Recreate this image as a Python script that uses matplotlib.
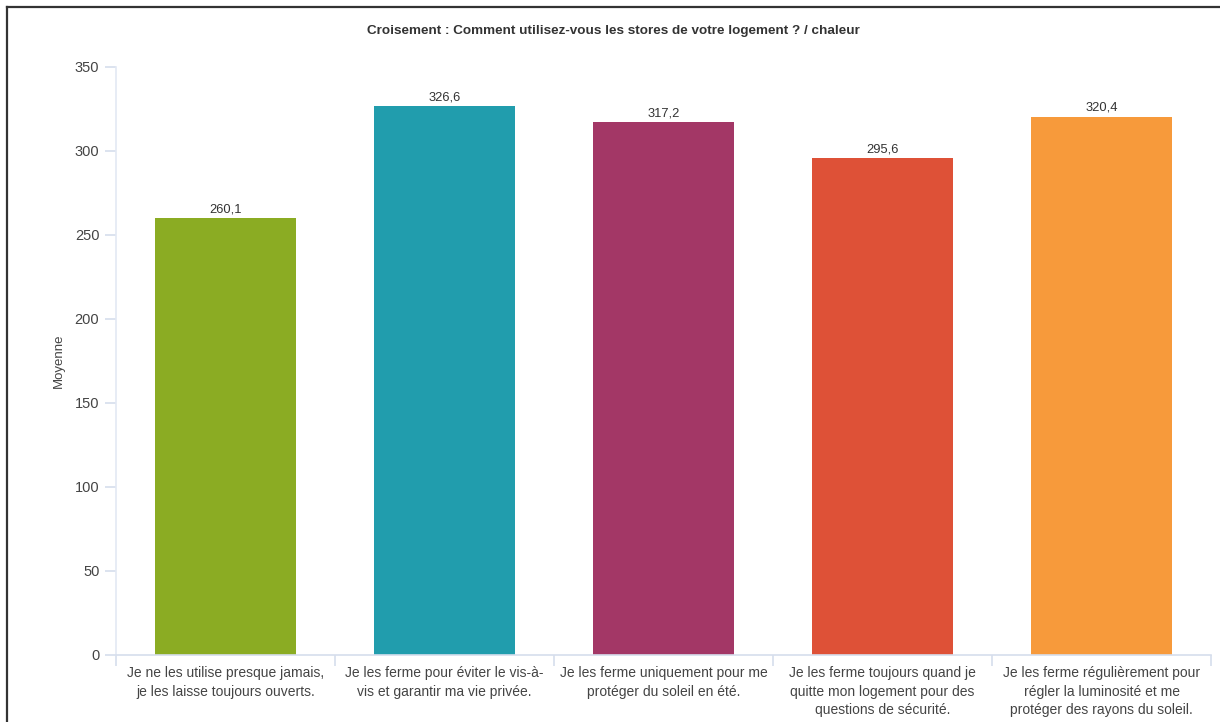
import matplotlib
matplotlib.use("Agg")
import matplotlib.pyplot as plt
from matplotlib.lines import Line2D
import numpy as np

plt.rcParams['font.family'] = ['Liberation Sans', 'DejaVu Sans']

title = "Croisement : Comment utilisez-vous les stores de votre logement ? / chaleur"
categories = [
    "Je ne les utilise presque jamais,\nje les laisse toujours ouverts.",
    "Je les ferme pour éviter le vis-à-\nvis et garantir ma vie privée.",
    "Je les ferme uniquement pour me\nprotéger du soleil en été.",
    "Je les ferme toujours quand je\nquitte mon logement pour des\nquestions de sécurité.",
    "Je les ferme régulièrement pour\nrégler la luminosité et me\nprotéger des rayons du soleil.",
]
values = [260.1, 326.6, 317.2, 295.6, 320.4]
colors = ["#8bac23", "#219dad", "#a33766", "#de5137", "#f79a3b"]
y_ticks = [0, 50, 100, 150, 200, 250, 300, 350]
y_label = "Moyenne"

W, H = 1220, 722
fig = plt.figure(figsize=(W / 100, H / 100), dpi=100)
ax = fig.add_axes([116 / W, 1 - 655 / H, (1211 - 116) / W, (655 - 67) / H])

x = np.arange(len(categories))
bars = ax.bar(x, values, width=0.64, color=colors, zorder=2)
ax.bar_label(bars, labels=[f"{v:.1f}".replace(".", ",") for v in values],
             padding=2, fontsize=9.3, color="#333333")

ax.set_xlim(-0.5, len(categories) - 0.5)
ax.set_ylim(0, 350)
ax.set_yticks(y_ticks)
ax.set_yticklabels([str(t) for t in y_ticks])
ax.set_xticks(x)
ax.set_xticklabels(categories, fontsize=10, color="#444444", linespacing=1.4)
ax.set_xticks(np.arange(-0.5, len(categories) - 0.4, 1.0), minor=True)

axis_col = "#d6deec"
for s in ["top", "right"]:
    ax.spines[s].set_visible(False)
ax.spines["left"].set_color("#e3e9f4")
ax.spines["bottom"].set_color(axis_col)
ax.spines["left"].set_linewidth(1.2)
ax.spines["bottom"].set_linewidth(1.2)

ax.tick_params(axis="y", length=8, width=1.2, color=axis_col, labelsize=10.5,
               labelcolor="#444444", pad=4)
ax.tick_params(axis="x", which="major", length=0, pad=8)
ax.tick_params(axis="x", which="minor", length=8, width=1.2, color=axis_col)

ax.set_ylabel(y_label, fontsize=9.5, color="#444444", labelpad=7)
fig.text(613 / W, 1 - 31 / H, title, ha="center", va="center",
         fontsize=9.7, fontweight="bold", color="#333333")

# outer frame (left and top edges)
fig.add_artist(Line2D([7 / W, 7 / W], [0, 1 - 7 / H], transform=fig.transFigure,
                      color="#333333", lw=1.6))
fig.add_artist(Line2D([7 / W, 1], [1 - 7 / H, 1 - 7 / H], transform=fig.transFigure,
                      color="#333333", lw=1.6))

fig.savefig("out.png", dpi=100)
